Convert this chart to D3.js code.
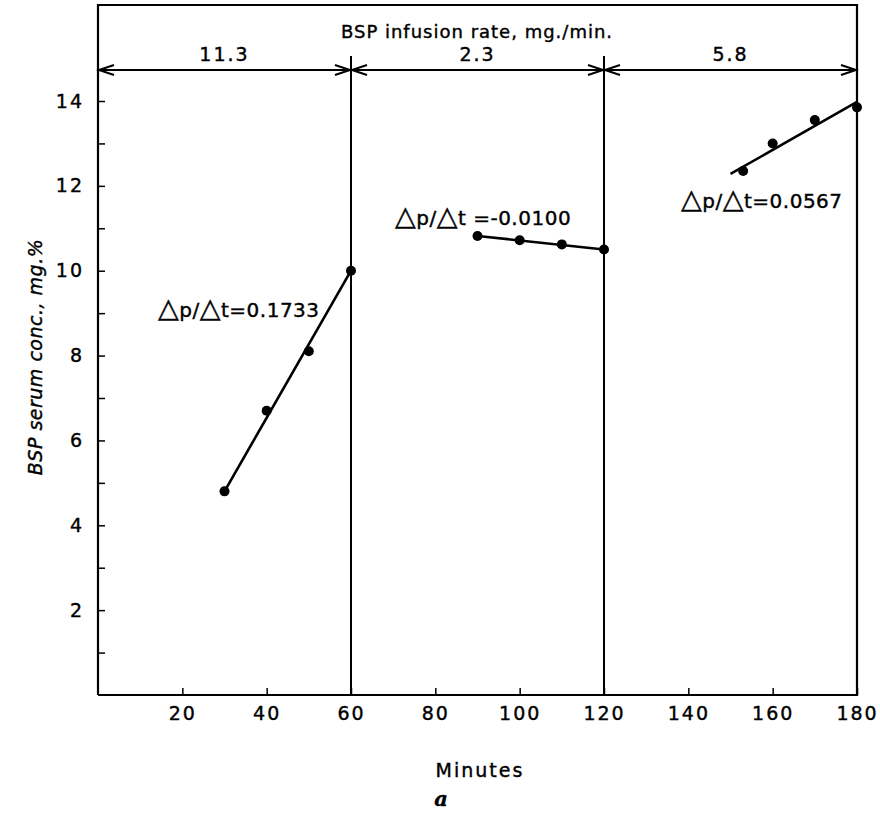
<!DOCTYPE html>
<html>
<head>
<meta charset="utf-8">
<script src="https://cdn.jsdelivr.net/npm/d3@7"></script>
<style>
  body { margin: 0; background: #fff; }
  svg text { font-family: "DejaVu Sans", sans-serif; fill: #000; stroke: #000; stroke-width: 0.4px; }
</style>
</head>
<body>
<svg id="chart" width="880" height="818"></svg>
<script>
// infusion periods (minutes) and rates
var periodStart = [0, 60, 120]
var periodEnd = [60, 120, 180]
var infusionRates = ['11.3', '2.3', '5.8']

// measured serum conc. per period
var minutes = [[30, 40, 50, 60], [90, 100, 110, 120], [153, 160, 170, 180]]
var conc = [[4.8, 6.7, 8.1, 10.0], [10.82, 10.72, 10.62, 10.5], [12.35, 13.0, 13.55, 13.85]]

// fitted lines (end points)
var fitMinutes = [[30, 60], [90, 120], [150, 180]]
var fitConc = [[4.8, 10.0], [10.82, 10.5], [12.28, 13.98]]
var slopes = ['0.1733', '-0.0100', '0.0567']

var xTicks = [20, 40, 60, 80, 100, 120, 140, 160, 180]
var yTicks = [1, 2, 3, 4, 5, 6, 7, 8, 9, 10, 11, 12, 13, 14]

var svg = d3.select('#chart')
var x = d3.scaleLinear().domain([0, 180]).range([98, 857])
var y = d3.scaleLinear().domain([0, 14]).range([695, 101])
var frameTop = 5
var arrowY = y(14.73)

// x axis
var xAxis = svg.append('g')
    .attr('transform', 'translate(0,' + y(0) + ')')
    .call(d3.axisBottom(x).tickValues(xTicks).tickSizeInner(-7).tickSizeOuter(0).tickPadding(12))
xAxis.select('.domain').remove()
xAxis.selectAll('line').attr('stroke-width', 1.5)
xAxis.selectAll('text').style('font-size', '19px').style('letter-spacing', '2px').attr('fill', '#000')

// y axis
var yAxis = svg.append('g')
    .attr('transform', 'translate(' + x(0) + ',0)')
    .call(d3.axisLeft(y).tickValues(yTicks).tickSizeInner(-7).tickSizeOuter(0).tickPadding(14)
        .tickFormat(function (d) { return d % 2 === 0 ? d : '' }))
yAxis.select('.domain').remove()
yAxis.selectAll('line').attr('stroke-width', 1.5)
yAxis.selectAll('text').style('font-size', '19px').style('letter-spacing', '2px').attr('fill', '#000')

// frame
svg.append('path')
    .attr('d', 'M' + x(0) + ',' + y(0) + 'V' + frameTop + 'H' + x(180) + 'V' + y(0) + 'H' + x(0))
    .attr('fill', 'none')
    .attr('stroke', '#000')
    .attr('stroke-width', 2.2)

// period boundaries
svg.selectAll('.divider')
    .data(periodEnd.slice(0, 2))
    .enter()
    .append('line')
    .attr('class', 'divider')
    .attr('x1', function (d) { return x(d) })
    .attr('x2', function (d) { return x(d) })
    .attr('y1', arrowY - 14)
    .attr('y2', y(0))
    .attr('stroke', '#000')
    .attr('stroke-width', 2)

// arrows for infusion periods
var arrowHead = function (xTip, dir) {
    return 'M' + (xTip - dir * 15) + ',' + (arrowY - 5) + 'L' + xTip + ',' + arrowY + 'L' + (xTip - dir * 15) + ',' + (arrowY + 5)
}
periodStart.forEach(function (s, i) {
    var e = periodEnd[i]
    svg.append('line')
        .attr('x1', x(s)).attr('x2', x(e))
        .attr('y1', arrowY).attr('y2', arrowY)
        .attr('stroke', '#000').attr('stroke-width', 2)
    svg.append('path')
        .attr('d', arrowHead(x(s) + 1, -1) + arrowHead(x(e) - 1, 1))
        .attr('fill', 'none').attr('stroke', '#000').attr('stroke-width', 2)
    svg.append('text')
        .attr('x', x((s + e) / 2))
        .attr('y', arrowY - 9)
        .attr('text-anchor', 'middle')
        .style('font-size', '19px')
        .style('letter-spacing', '2px')
        .text(infusionRates[i])
})

svg.append('text')
    .attr('x', 477)
    .attr('y', 38)
    .attr('text-anchor', 'middle')
    .style('font-size', '18px')
    .style('letter-spacing', '1px')
    .text('BSP infusion rate, mg./min.')

// fitted lines
var line = d3.line()
    .x(function (d) { return x(d[0]) })
    .y(function (d) { return y(d[1]) })
fitMinutes.forEach(function (m, i) {
    svg.append('path')
        .attr('d', line(d3.zip(m, fitConc[i])))
        .attr('fill', 'none')
        .attr('stroke', '#000')
        .attr('stroke-width', 2.6)
})

// measured points
minutes.forEach(function (m, i) {
    svg.selectAll('.pt' + i)
        .data(d3.zip(m, conc[i]))
        .enter()
        .append('circle')
        .attr('class', 'pt' + i)
        .attr('cx', function (d) { return x(d[0]) })
        .attr('cy', function (d) { return y(d[1]) })
        .attr('r', 5)
        .attr('fill', '#000')
})

// slope labels, triangles drawn larger than the letters
var slopeLabelPos = [[158, 317], [395, 225], [681, 208]]
slopes.forEach(function (s, i) {
    var t = svg.append('text')
        .attr('x', slopeLabelPos[i][0])
        .attr('y', slopeLabelPos[i][1])
        .style('font-size', '20px')
        .style('letter-spacing', '0.5px')
    t.append('tspan').style('font-size', '27px').text('\u25B3')
    t.append('tspan').text('p/')
    t.append('tspan').style('font-size', '27px').text('\u25B3')
    t.append('tspan').text('t' + (i === 1 ? ' =' : '=') + s)
})

// axis titles
svg.append('text')
    .attr('x', 480)
    .attr('y', 777)
    .attr('text-anchor', 'middle')
    .style('font-size', '19px')
    .style('letter-spacing', '2px')
    .text('Minutes')

svg.append('text')
    .attr('transform', 'translate(42,357) rotate(-90)')
    .attr('text-anchor', 'middle')
    .style('font-size', '19px')
    .style('font-style', 'italic')
    .style('letter-spacing', '0.5px')
    .text('BSP serum conc., mg.%')

svg.append('text')
    .attr('x', 441)
    .attr('y', 806)
    .attr('text-anchor', 'middle')
    .style('font-family', '"DejaVu Serif", serif')
    .style('font-size', '21px')
    .style('font-style', 'italic')
    .style('font-weight', 'bold')
    .text('a')
</script>
</body>
</html>
